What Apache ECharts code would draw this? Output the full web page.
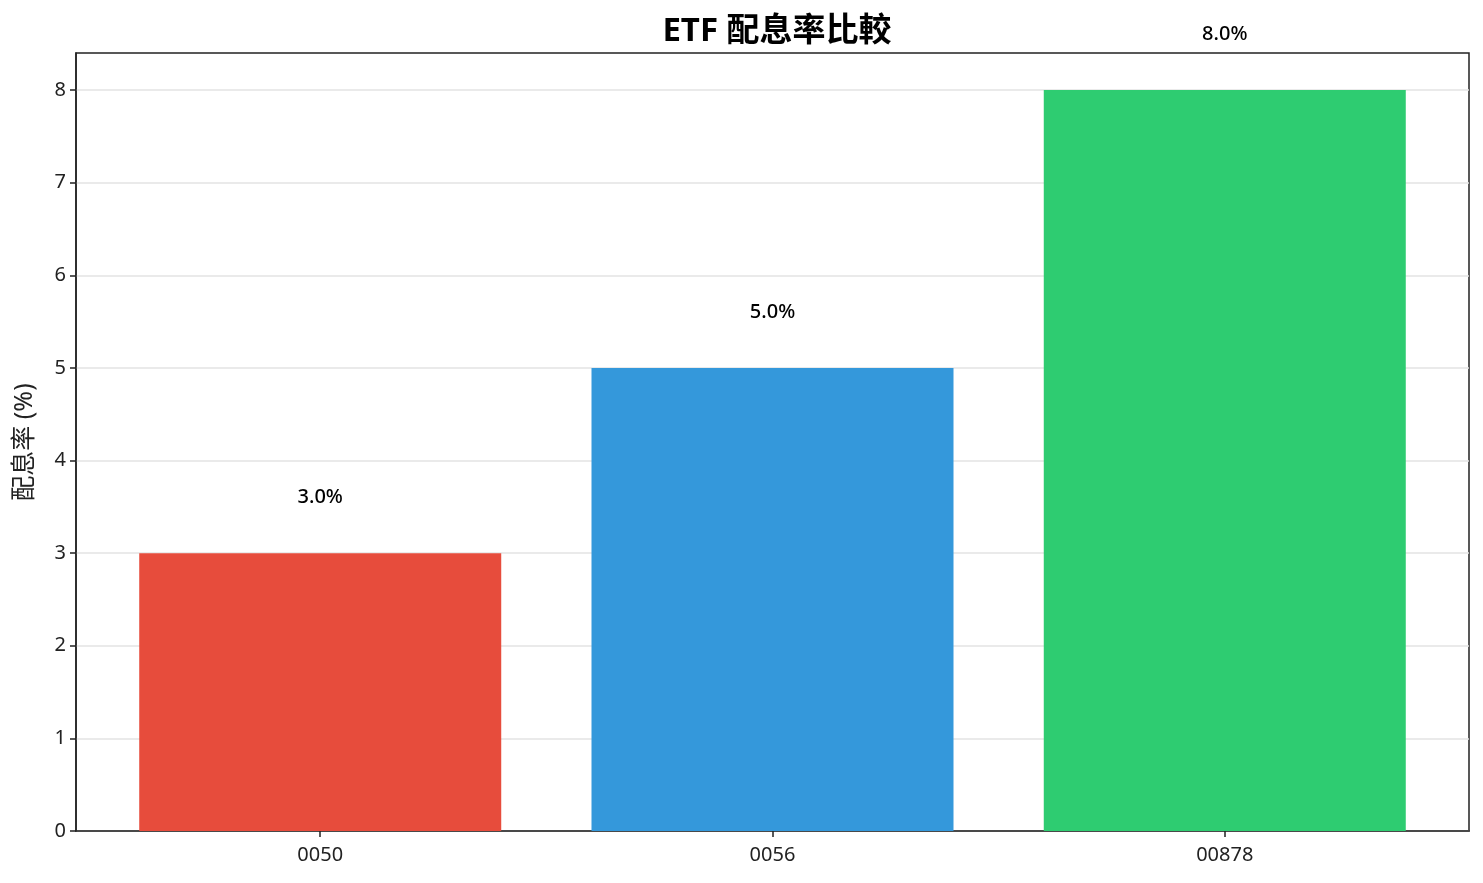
<!DOCTYPE html>
<html>
<head>
    <meta charset="utf-8">
    <title>ETF 配息率比較</title>
    <script src="https://cdn.jsdelivr.net/npm/echarts@6/dist/echarts.min.js"></script>
    <style>
        html, body { margin: 0; padding: 0; background: #fff; }
        #chart1 { width: 1483px; height: 883px; }
    </style>
</head>
<body>
<div id="chart1"></div>
<script type="text/javascript">
    // 資料
    var etfNames = ['0050', '0056', '00878'];
    var yieldValues = [3.0, 5.0, 8.0];
    var barColors = ['#e74c3c', '#3498db', '#2ecc71'];
    var yTicks = [0, 1, 2, 3, 4, 5, 6, 7, 8];

    var font = '"Noto Sans", "Noto Sans CJK TC", sans-serif';

    var barData = etfNames.map(function (name, i) {
        return {
            value: [i, yieldValues[i]],
            itemStyle: { color: barColors[i] }
        };
    });

    var myChart1 = echarts.init(document.getElementById('chart1'));
    myChart1.setOption({
        animation: false,
        title: {
            text: 'ETF 配息率比較',
            left: 772,
            top: 10,
            textAlign: 'center',
            textStyle: { fontFamily: font, fontSize: 33, fontWeight: 'bold', color: '#000' }
        },
        grid: {
            left: 76, right: 14, top: 53, bottom: 52,
            show: true, borderColor: '#222', borderWidth: 1.5, backgroundColor: '#fff'
        },
        xAxis: {
            type: 'value',
            min: -0.54,
            max: 2.54,
            splitLine: { show: false },
            axisLine: { show: true, onZero: false, lineStyle: { color: '#222', width: 1.5 } },
            axisTick: { show: true, customValues: [0, 1, 2], length: 6, lineStyle: { color: '#222', width: 1.5 } },
            axisLabel: {
                customValues: [0, 1, 2],
                formatter: function (v) { return etfNames[Math.round(v)]; },
                fontFamily: font, fontSize: 20, color: '#222', margin: 14
            }
        },
        yAxis: {
            type: 'value',
            min: 0,
            max: 8.4,
            name: '配息率 (%)',
            nameLocation: 'middle',
            nameGap: 39,
            nameTextStyle: { fontFamily: font, fontSize: 25, color: '#222' },
            axisLine: { show: true, onZero: false, lineStyle: { color: '#222', width: 1.5 } },
            axisTick: { show: true, customValues: yTicks, length: 6, lineStyle: { color: '#222', width: 1.5 } },
            axisLabel: {
                customValues: yTicks,
                fontFamily: font, fontSize: 20, color: '#222', margin: 10
            },
            splitLine: { show: true, lineStyle: { color: '#e3e3e3', width: 1.5 } }
        },
        series: [{
            type: 'bar',
            data: barData,
            barWidth: 362,
            label: {
                show: true,
                position: 'top',
                distance: 46,
                formatter: function (p) { return p.value[1].toFixed(1) + '%'; },
                fontFamily: font, fontSize: 20, fontWeight: 500, color: '#000'
            }
        }]
    });
</script>
</body>
</html>
